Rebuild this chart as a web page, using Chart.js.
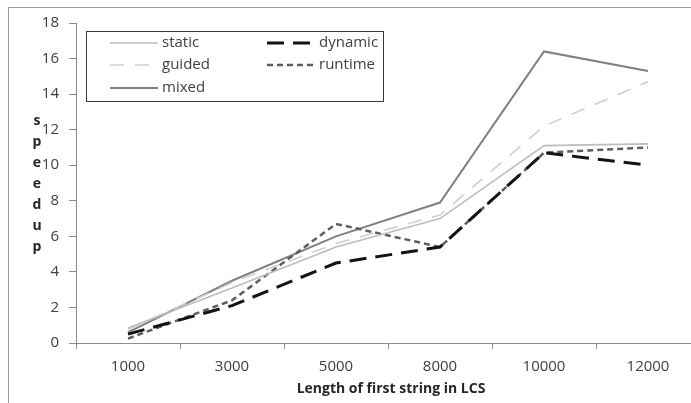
<!DOCTYPE html>
<html>
<head>
<meta charset="utf-8">
<script src="https://cdn.jsdelivr.net/npm/chart.js@4/dist/chart.umd.min.js"></script>
<style>
  html, body { margin: 0; padding: 0; background: #fff; overflow: hidden; }
  #wrap { width: 700px; height: 403px; }
</style>
</head>
<body>
<div id="wrap"><canvas id="chart" width="700" height="403"></canvas></div>
<script>
// values
const categories = ['1000', '3000', '5000', '8000', '10000', '12000'];
const staticVals  = [0.85, 3.1, 5.4, 7.0, 11.1, 11.2];
const dynamicVals = [0.5, 2.1, 4.5, 5.4, 10.7, 10.0];
const guidedVals  = [0.75, 3.4, 5.6, 7.2, 12.2, 14.7];
const runtimeVals = [0.25, 2.4, 6.7, 5.4, 10.7, 11.0];
const mixedVals   = [0.6, 3.5, 6.0, 7.9, 16.4, 15.3];
const yTicks = [0, 2, 4, 6, 8, 10, 12, 14, 16, 18];

const xTitle = 'Length of first string in LCS';
const yTitle = 'speedup';

Chart.defaults.font.family = "'Open Sans', 'Liberation Sans', sans-serif";

function series(label, data, color, width, dash) {
  return {
    label: label,
    data: data,
    borderColor: color,
    backgroundColor: color,
    borderWidth: width,
    borderDash: dash,
    pointRadius: 0,
    tension: 0,
    fill: false
  };
}

// legend in a framed box, two columns, plus the stacked y title and the frame
const decorations = {
  id: 'decorations',
  beforeDraw(chart) {
    const ctx = chart.ctx;
    ctx.save();
    ctx.strokeStyle = '#9a9a9a';
    ctx.lineWidth = 1;
    ctx.strokeRect(8.5, 7.5, 900, 900);
    ctx.restore();
  },
  afterDraw(chart) {
    const ctx = chart.ctx;
    const area = chart.chartArea;
    ctx.save();

    // legend
    ctx.strokeStyle = '#3a3a3a';
    ctx.lineWidth = 1;
    ctx.strokeRect(86.5, 31.5, 297, 70);
    const slots = [[110, 43], [267, 43], [110, 65], [267, 65], [110, 88]];
    const order = [0, 1, 2, 3, 4];
    ctx.font = "15px 'Open Sans', sans-serif";
    ctx.textBaseline = 'middle';
    ctx.textAlign = 'left';
    order.forEach((di, i) => {
      const ds = chart.data.datasets[di];
      const [x, y] = slots[i];
      ctx.beginPath();
      ctx.strokeStyle = ds.borderColor;
      ctx.lineWidth = ds.borderWidth;
      ctx.setLineDash(ds.borderDash || []);
      ctx.moveTo(x, y);
      ctx.lineTo(x + 48, y);
      ctx.stroke();
      ctx.setLineDash([]);
      ctx.fillStyle = '#404040';
      ctx.fillText(ds.label, x + 52, y);
    });

    // stacked y title
    ctx.font = "bold 14px 'Open Sans', sans-serif";
    ctx.textAlign = 'center';
    ctx.fillStyle = '#262626';
    yTitle.split('').forEach((ch, i) => {
      ctx.fillText(ch, 37, 121 + i * 21);
    });

    // x title
    ctx.fillText(xTitle, (76 + 700) / 2 + 3, 389);
    ctx.restore();
  }
};

new Chart(document.getElementById('chart'), {
  type: 'line',
  data: {
    labels: categories,
    datasets: [
      series('static', staticVals, '#bdbdbd', 1.6, []),
      series('dynamic', dynamicVals, '#141414', 3, [17, 9]),
      series('guided', guidedVals, '#cfcfcf', 1.6, [14, 11]),
      series('runtime', runtimeVals, '#5e5e5e', 2.5, [6, 4]),
      series('mixed', mixedVals, '#808080', 2, [])
    ]
  },
  options: {
    responsive: false,
    animation: false,
    layout: { padding: { left: 0, top: 23, right: 0, bottom: 0 } },
    plugins: {
      legend: { display: false },
      tooltip: { enabled: false }
    },
    scales: {
      x: {
        offset: true,
        afterFit(scale) { scale.height = 60; },
        grid: { offset: true, drawOnChartArea: false, drawTicks: true, tickLength: 6, color: '#8c8c8c' },
        border: { color: '#8c8c8c', width: 1 },
        ticks: { color: '#404040', font: { size: 15 }, padding: 9, maxRotation: 0 }
      },
      y: {
        min: 0,
        max: 18,
        afterFit(scale) { scale.width = 76; },
        afterBuildTicks(scale) { scale.ticks = yTicks.map(v => ({ value: v })); },
        grid: { drawOnChartArea: false, drawTicks: true, tickLength: 7, color: '#8c8c8c' },
        border: { color: '#8c8c8c', width: 1 },
        ticks: { color: '#404040', font: { size: 15 }, padding: 10 }
      }
    }
  },
  plugins: [decorations]
});
</script>
</body>
</html>
